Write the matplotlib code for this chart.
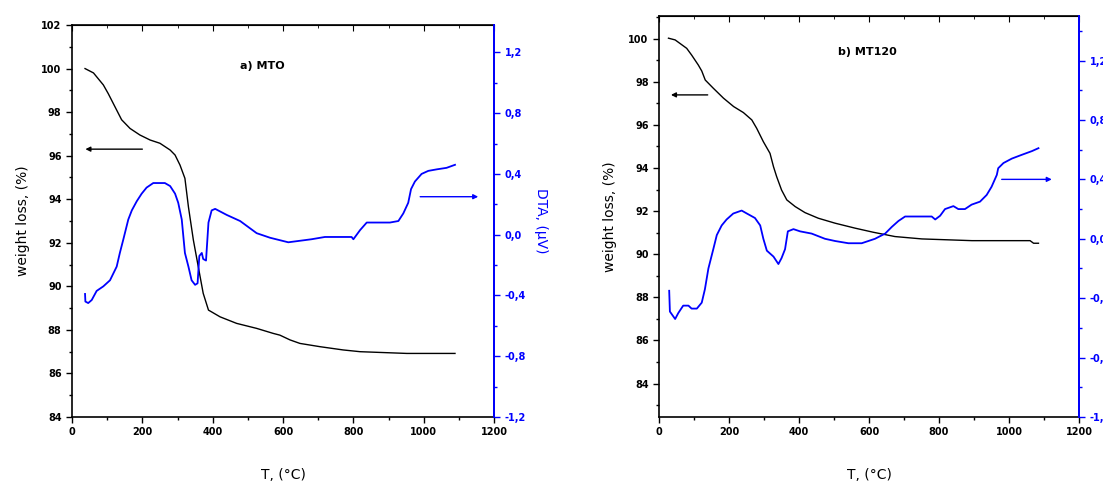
import numpy as np
import matplotlib
matplotlib.use("Agg")
import matplotlib.pyplot as plt
from matplotlib.ticker import MultipleLocator, FuncFormatter

# ---- panel a) MTO ----
t_wa = [37, 61, 89, 103, 122, 141, 165, 193, 222, 250, 279, 293, 307, 321, 331, 345,
        359, 373, 388, 421, 468, 525, 572, 591, 620, 648, 705, 771, 819, 952, 1089]
w_a = [100.0, 99.8, 99.25, 98.85, 98.25, 97.65, 97.25, 96.95, 96.72, 96.57, 96.26, 96.03,
       95.57, 94.96, 93.65, 92.13, 90.9, 89.68, 88.91, 88.6, 88.3, 88.07, 87.84, 87.76,
       87.54, 87.38, 87.23, 87.08, 87.0, 86.92, 86.92]
t_da = [37, 38, 46, 56, 70, 89, 108, 127, 136, 146, 160, 170, 184, 198, 212, 231, 264,
        279, 293, 302, 312, 321, 331, 340, 350, 357, 362, 369, 373, 381, 388, 397, 407,
        440, 478, 525, 563, 615, 648, 681, 719, 795, 800, 819, 838, 904, 928, 942, 956,
        964, 975, 994, 1013, 1037, 1065, 1089]
dta_a = [-0.39, -0.44, -0.45, -0.43, -0.37, -0.34, -0.30, -0.21, -0.12, -0.03, 0.10, 0.16,
         0.22, 0.27, 0.31, 0.34, 0.34, 0.32, 0.27, 0.21, 0.10, -0.12, -0.21, -0.30, -0.33,
         -0.32, -0.14, -0.12, -0.16, -0.17, 0.08, 0.16, 0.17, 0.13, 0.09, 0.01, -0.02,
         -0.05, -0.04, -0.03, -0.015, -0.015, -0.03, 0.03, 0.08, 0.08, 0.09, 0.14, 0.21,
         0.30, 0.35, 0.40, 0.42, 0.43, 0.44, 0.46]

# ---- panel b) MT120 ----
t_wb = [27, 46, 79, 93, 112, 122, 132, 155, 184, 213, 241, 265, 279, 298, 317, 327, 336,
        350, 365, 389, 417, 455, 503, 560, 612, 674, 751, 894, 1060, 1070, 1084]
w_b = [100.02, 99.94, 99.55, 99.24, 98.78, 98.50, 98.08, 97.70, 97.24, 96.85, 96.57,
       96.23, 95.84, 95.22, 94.68, 94.06, 93.60, 92.98, 92.52, 92.21, 91.93, 91.67, 91.44,
       91.21, 91.02, 90.82, 90.71, 90.63, 90.63, 90.51, 90.51]
t_db = [29, 31, 46, 55, 69, 84, 93, 108, 122, 131, 141, 155, 165, 179, 193, 212, 236, 251,
        274, 289, 298, 308, 327, 341, 350, 360, 368, 384, 403, 436, 474, 503, 541, 579,
        617, 646, 665, 684, 703, 779, 789, 803, 817, 841, 855, 874, 893, 917, 936, 950,
        965, 969, 984, 1008, 1036, 1065, 1084]
dta_b = [-0.35, -0.49, -0.54, -0.50, -0.45, -0.45, -0.47, -0.47, -0.43, -0.34, -0.20,
         -0.07, 0.025, 0.09, 0.13, 0.17, 0.19, 0.17, 0.14, 0.09, 0.00, -0.08, -0.12, -0.17,
         -0.13, -0.07, 0.05, 0.065, 0.05, 0.035, 0.00, -0.015, -0.03, -0.03, 0.00, 0.035,
         0.08, 0.12, 0.15, 0.15, 0.13, 0.155, 0.20, 0.22, 0.20, 0.20, 0.23, 0.25, 0.295,
         0.35, 0.43, 0.475, 0.51, 0.54, 0.565, 0.59, 0.61]

BLUE = "#0000ff"


def comma(v, pos):
    return ("%.1f" % v).replace(".", ",")


def make_panel(rect, t_w, w, t_d, d, wlim, dlim, wticks, label, label_xy,
               black_arrow, blue_arrow, dta_label):
    ax = fig.add_axes(rect)
    ax.plot(t_w, w, color="black", lw=1.0)
    ax.set_xlim(0, 1200)
    ax.set_ylim(*wlim)
    ax.set_xticks(np.arange(0, 1201, 200))
    ax.xaxis.set_minor_locator(MultipleLocator(100))
    ax.set_yticks(wticks)
    ax.yaxis.set_minor_locator(MultipleLocator(1))
    ax.tick_params(which="major", direction="out", length=4, width=1)
    ax.tick_params(which="minor", direction="out", length=2.5, width=1)
    for lab in ax.get_xticklabels() + ax.get_yticklabels():
        lab.set_fontsize(7)
        lab.set_fontweight("bold")
    for s in ax.spines.values():
        s.set_linewidth(1.2)
    ax.set_ylabel("weight loss, (%)", fontsize=10, labelpad=8)
    ax.set_xlabel("T, (°C)", fontsize=10, labelpad=22)

    top = ax.secondary_xaxis("top")
    top.set_xticks(np.arange(0, 1201, 200))
    top.xaxis.set_minor_locator(MultipleLocator(100))
    top.tick_params(which="major", direction="in", length=4, labeltop=False)
    top.tick_params(which="minor", direction="in", length=2.5)

    ax.text(label_xy[0], label_xy[1], label, fontsize=8, fontweight="bold",
            va="center", ha="left")
    ax.annotate("", xy=(black_arrow[1], black_arrow[2]),
                xytext=(black_arrow[0], black_arrow[2]),
                arrowprops=dict(arrowstyle="-|>", color="black", lw=1.0,
                                mutation_scale=7, shrinkA=0, shrinkB=0))

    ax2 = ax.twinx()
    ax2.plot(t_d, d, color=BLUE, lw=1.3)
    ax2.set_ylim(*dlim)
    ax2.yaxis.set_major_locator(MultipleLocator(0.4))
    ax2.yaxis.set_minor_locator(MultipleLocator(0.2))
    ax2.yaxis.set_major_formatter(FuncFormatter(comma))
    ax2.tick_params(which="major", direction="out", length=4, width=1,
                    colors=BLUE)
    ax2.tick_params(which="minor", direction="out", length=2.5, width=1,
                    colors=BLUE)
    for lab in ax2.get_yticklabels():
        lab.set_fontsize(7)
        lab.set_fontweight("bold")
    for side in ("left", "top", "bottom"):
        ax2.spines[side].set_visible(False)
    ax2.spines["right"].set_color(BLUE)
    ax2.spines["right"].set_linewidth(1.4)
    ax2.annotate("", xy=(blue_arrow[1], blue_arrow[2]),
                 xytext=(blue_arrow[0], blue_arrow[2]),
                 arrowprops=dict(arrowstyle="-|>", color=BLUE, lw=1.0,
                                 mutation_scale=7, shrinkA=0, shrinkB=0))
    if dta_label:
        ax2.set_ylabel("DTA, (µV)", color=BLUE, fontsize=10, rotation=270,
                       labelpad=16)
    return ax, ax2


fig = plt.figure(figsize=(11.03, 4.83), dpi=100)

make_panel([0.0653, 0.1366, 0.3826, 0.8116], t_wa, w_a, t_da, dta_a,
           (84, 102), (-1.2, 1.38), np.arange(84, 103, 2), "a) MTO", (478, 100.1),
           (200, 38, 96.3), (990, 1155, 0.25), True)

make_panel([0.5975, 0.1366, 0.3808, 0.8303], t_wb, w_b, t_db, dta_b,
           (82.45, 101.05), (-1.2, 1.5), np.arange(84, 101, 2), "b) MT120", (512, 99.4),
           (139, 34, 97.39), (979, 1122, 0.40), False)

fig.savefig("out.png", dpi=100)
